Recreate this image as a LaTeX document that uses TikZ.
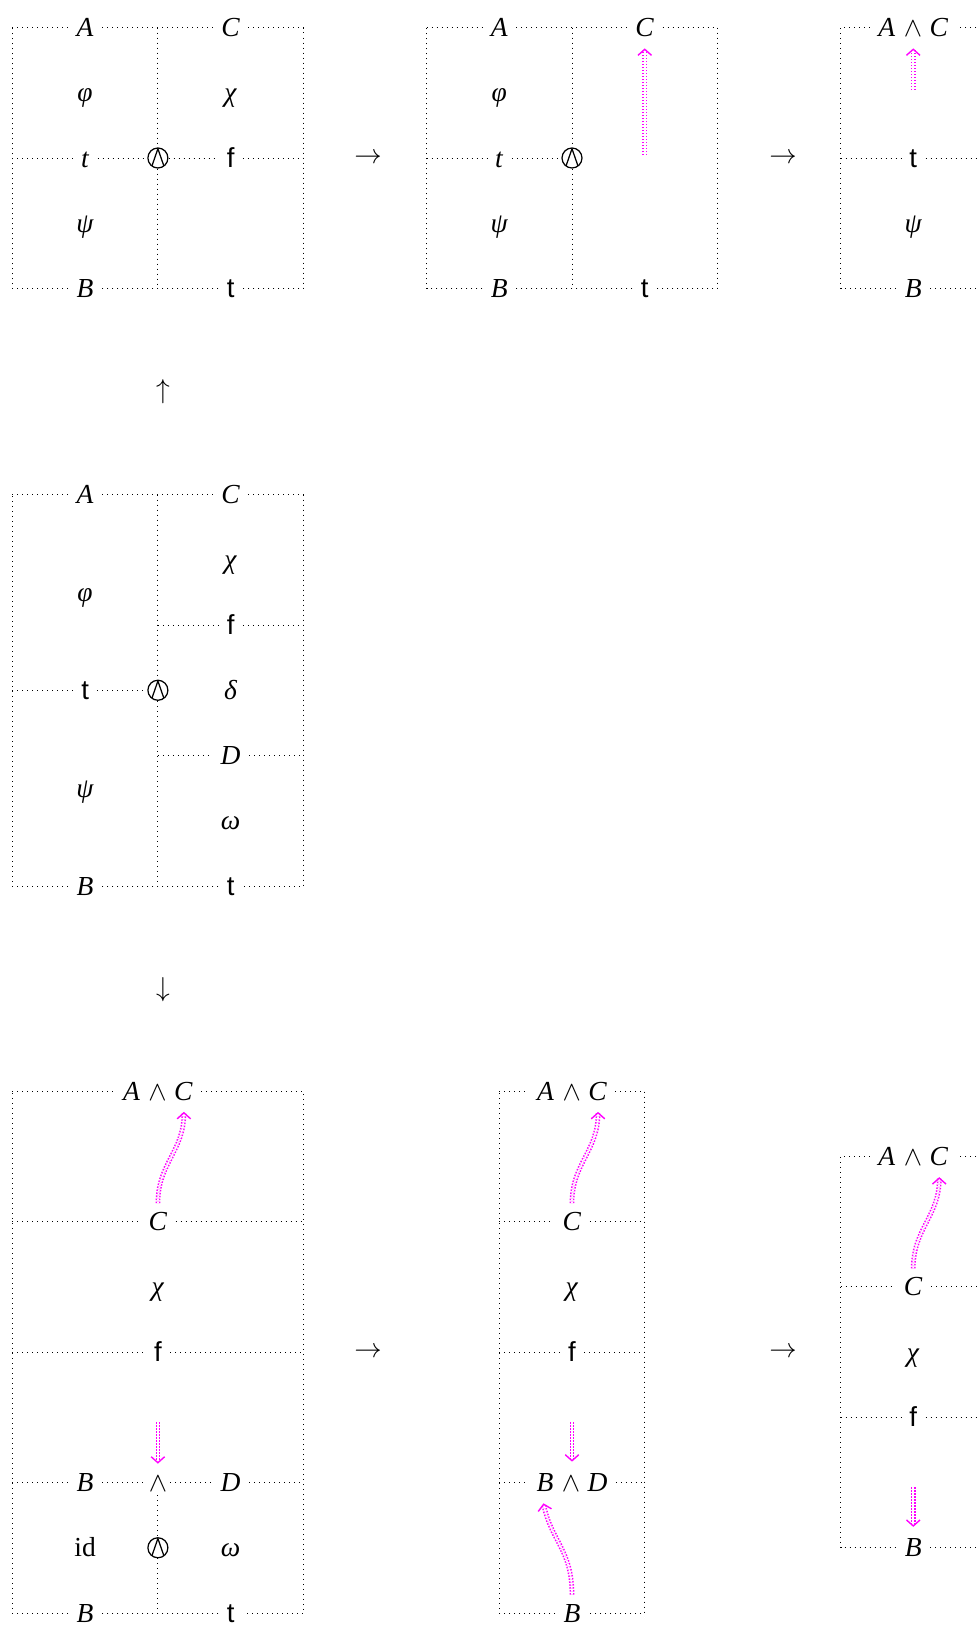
\documentclass[tikz,border=0pt]{standalone}
\usepackage{fontspec}
\setmainfont{Liberation Serif}
\newfontfamily\sansf{Liberation Sans}
\usetikzlibrary{arrows.meta}
\definecolor{flowmag}{RGB}{255,0,255}
\newcommand{\andAC}[2]{\textit{#1}\kern3.4pt$\wedge$\kern3pt\textit{#2}}
\tikzset{
  lab/.style={inner sep=3.2pt, text height=7.6pt, text depth=0.3pt, font=\fontsize{11pt}{13pt}\selectfont},
  sym/.style={font=\fontsize{11pt}{13pt}\selectfont},
  frame/.style={line width=0.4pt, dash pattern=on 0.4pt off 1.6pt},
  wedgelab/.style={lab, inner sep=1pt},
  owedge/.style={circle, draw, line width=0.5pt, minimum size=8pt, inner sep=0pt,
    path picture={\draw[line width=0.5pt]
      ([shift={(-2.6pt,-3.8pt)}]path picture bounding box.center) --
      ([shift={(0pt,3.7pt)}]path picture bounding box.center) --
      ([shift={(2.6pt,-3.8pt)}]path picture bounding box.center);}},
  flow/.style={draw=flowmag, double=white, line width=0.6pt, double distance=0.7pt,
    dash pattern=on 0.6pt off 0.6pt,
    -{Straight Barb[length=2.4pt, width=5.4pt, line width=0.55pt]}, shorten >=1pt}
}
\begin{document}
\begin{tikzpicture}[x=0.4pt, y=-0.4pt]
\useasboundingbox (0,0) rectangle (979,1626);
\fill[white] (0,0) rectangle (979,1626);
\clip (0,0) rectangle (979,1626);

% ---------------- Diagram 1 (top left)
\coordinate (pTL) at (12.4,27.5);  \coordinate (pTR) at (303.4,27.5);
\coordinate (pBL) at (12.4,288.5); \coordinate (pBR) at (303.4,288.5);
\coordinate (pTM) at (157.9,27.5); \coordinate (pBM) at (157.9,288.5);
\coordinate (pML) at (12.4,158);   \coordinate (pMR) at (303.4,158);
\node[lab] (pA) at (85.1,27.5) {\textit{A}};
\node[lab] (pC) at (230.6,27.5) {\textit{C}};
\node[lab] (pphi) at (85.1,92.75) {\textit{φ}};
\node[lab] (pchi) at (230.6,92.75) {\textit{χ}};
\node[lab] (pt) at (85.1,158) {\textit{t}};
\node[owedge] (po) at (157.9,158) {};
\node[lab] (pf) at (230.6,158) {\sansf f};
\node[lab] (ppsi) at (85.1,223.25) {\textit{ψ}};
\node[lab] (pB) at (85.1,288.5) {\textit{B}};
\node[lab] (ptt) at (230.6,288.5) {\sansf t};
\draw[frame] (pTL) -- (pA) -- (pC) -- (pTR) -- (pBR) -- (ptt) -- (pB) -- (pBL) -- (pTL);
\draw[frame] (pTM) -- (po) -- (pBM);
\draw[frame] (pML) -- (pt) -- (po) -- (pf) -- (pMR);

% ---------------- Diagram 2 (top middle)
\coordinate (qTL) at (426.5,27.5);  \coordinate (qTR) at (717.5,27.5);
\coordinate (qBL) at (426.5,288.5); \coordinate (qBR) at (717.5,288.5);
\coordinate (qTM) at (572,27.5);    \coordinate (qBM) at (572,288.5);
\coordinate (qML) at (426.5,158);
\coordinate (qs) at (644.75,155);
\node[lab] (qA) at (499.25,27.5) {\textit{A}};
\node[lab] (qC) at (644.75,27.5) {\textit{C}};
\node[lab] (qphi) at (499.25,92.75) {\textit{φ}};
\node[lab] (qt) at (499.25,158) {\textit{t}};
\node[owedge] (qo) at (572,158) {};
\node[lab] (qpsi) at (499.25,223.25) {\textit{ψ}};
\node[lab] (qB) at (499.25,288.5) {\textit{B}};
\node[lab] (qtt) at (644.75,288.5) {\sansf t};
\draw[frame] (qTL) -- (qA) -- (qC) -- (qTR) -- (qBR) -- (qtt) -- (qB) -- (qBL) -- (qTL);
\draw[frame] (qTM) -- (qo) -- (qBM);
\draw[frame] (qML) -- (qt) -- (qo);
\draw[flow] (qs) -- (qC);

% ---------------- Diagram 3 (top right)
\coordinate (rTL) at (840.5,27.5);  \coordinate (rTR) at (986,27.5);
\coordinate (rBL) at (840.5,288.5); \coordinate (rBR) at (986,288.5);
\coordinate (rML) at (840.5,158);   \coordinate (rMR) at (986,158);
\coordinate (rs) at (913.25,90);
\node[lab] (rAC) at (913.25,27.5) {\andAC{A}{C}};
\node[lab] (rt) at (913.25,158) {\sansf t};
\node[lab] (rpsi) at (913.25,223.25) {\textit{ψ}};
\node[lab] (rB) at (913.25,288.5) {\textit{B}};
\draw[frame] (rTR) -- (rAC) -- (rTL) -- (rBL) -- (rB) -- (rBR) -- (rTR);
\draw[frame] (rML) -- (rt) -- (rMR);
\draw[flow] (rs) -- (rAC);

% ---------------- arrows between diagrams
\node[sym] (ar1) at (368,158) {$\rightarrow$};
\node[sym] (ar2) at (783,158) {$\rightarrow$};
\node[sym] (up) at (163,392) {$\uparrow$};

% ---------------- Diagram 4 (middle left)
\coordinate (sTL) at (12.4,494.5); \coordinate (sTR) at (303.4,494.5);
\coordinate (sBL) at (12.4,886);   \coordinate (sBR) at (303.4,886);
\coordinate (sTM) at (157.9,494.5); \coordinate (sBM) at (157.9,886);
\coordinate (sML) at (12.4,690.25);
\coordinate (sM2) at (157.9,625);   \coordinate (sR2) at (303.4,625);
\coordinate (sM4) at (157.9,755.5); \coordinate (sR4) at (303.4,755.5);
\node[lab] (sA) at (85.1,494.5) {\textit{A}};
\node[lab] (sC) at (230.6,494.5) {\textit{C}};
\node[lab] (schi) at (230.6,559.75) {\textit{χ}};
\node[lab] (sphi) at (85.1,592.4) {\textit{φ}};
\node[lab] (sf) at (230.6,625) {\sansf f};
\node[lab] (st) at (85.1,690.25) {\sansf t};
\node[owedge] (so) at (157.9,690.25) {};
\node[lab] (sdelta) at (230.6,690.25) {\textit{δ}};
\node[lab] (sD) at (230.6,755.5) {\textit{D}};
\node[lab] (spsi) at (85.1,788.1) {\textit{ψ}};
\node[lab] (somega) at (230.6,820.75) {\textit{ω}};
\node[lab] (sB) at (85.1,886) {\textit{B}};
\node[lab] (stt) at (230.6,886) {\sansf t};
\draw[frame] (sTL) -- (sA) -- (sC) -- (sTR) -- (sBR) -- (stt) -- (sB) -- (sBL) -- (sTL);
\draw[frame] (sTM) -- (so) -- (sBM);
\draw[frame] (sML) -- (st) -- (so);
\draw[frame] (sM2) -- (sf) -- (sR2);
\draw[frame] (sM4) -- (sD) -- (sR4);

\node[sym] (dn) at (163,990) {$\downarrow$};

% ---------------- Diagram 5 (bottom left)
\coordinate (uTL) at (12.4,1091); \coordinate (uTR) at (303.4,1091);
\coordinate (uBL) at (12.4,1613); \coordinate (uBR) at (303.4,1613);
\coordinate (uBM) at (157.9,1613);
\coordinate (uL2) at (12.4,1221.5); \coordinate (uR2) at (303.4,1221.5);
\coordinate (uL4) at (12.4,1352);   \coordinate (uR4) at (303.4,1352);
\coordinate (uL6) at (12.4,1482.5); \coordinate (uR6) at (303.4,1482.5);
\coordinate (us) at (157.9,1422);
\node[lab] (uAC) at (157.9,1091) {\andAC{A}{C}};
\node[lab] (uC) at (157.9,1221.5) {\textit{C}};
\node[lab] (uchi) at (157.9,1286.75) {\textit{χ}};
\node[lab] (uf) at (157.9,1352) {\sansf f};
\node[lab] (uB) at (85.1,1482.5) {\textit{B}};
\node[wedgelab] (uw) at (157.9,1482.5) {$\wedge$};
\node[lab] (uD) at (230.6,1482.5) {\textit{D}};
\node[lab] (uid) at (85.1,1547.75) {id};
\node[owedge] (uo) at (157.9,1547.75) {};
\node[lab] (uomega) at (230.6,1547.75) {\textit{ω}};
\node[lab] (uB2) at (85.1,1613) {\textit{B}};
\node[lab] (utt) at (230.6,1613) {\sansf t};
\draw[frame] (uTL) -- (uAC) -- (uTR) -- (uBR) -- (utt) -- (uB2) -- (uBL) -- (uTL);
\draw[frame] (uL2) -- (uC) -- (uR2);
\draw[frame] (uL4) -- (uf) -- (uR4);
\draw[frame] (uL6) -- (uB) -- (uw) -- (uD) -- (uR6);
\draw[frame] (uw) -- (uo) -- (uBM);
\draw[flow] (uC.north) .. controls +(0,-40) and +(0,42) .. ([xshift=10.4pt]uAC.south);
\draw[flow, shorten >=2.4pt] (us) -- (uw.north);

\node[sym] (ar3) at (368,1352) {$\rightarrow$};

% ---------------- Diagram 6 (bottom middle)
\coordinate (vTL) at (499.25,1091); \coordinate (vTR) at (644.75,1091);
\coordinate (vBL) at (499.25,1613); \coordinate (vBR) at (644.75,1613);
\coordinate (vL2) at (499.25,1221.5); \coordinate (vR2) at (644.75,1221.5);
\coordinate (vL4) at (499.25,1352);   \coordinate (vR4) at (644.75,1352);
\coordinate (vL6) at (499.25,1482.5); \coordinate (vR6) at (644.75,1482.5);
\coordinate (vs) at (572,1422);
\node[lab] (vAC) at (572,1091) {\andAC{A}{C}};
\node[lab] (vC) at (572,1221.5) {\textit{C}};
\node[lab] (vchi) at (572,1286.75) {\textit{χ}};
\node[lab] (vf) at (572,1352) {\sansf f};
\node[lab] (vBD) at (572,1482.5) {\andAC{B}{D}};
\node[lab] (vB) at (572,1613) {\textit{B}};
\draw[frame] (vTL) -- (vAC) -- (vTR) -- (vBR) -- (vB) -- (vBL) -- (vTL);
\draw[frame] (vL2) -- (vC) -- (vR2);
\draw[frame] (vL4) -- (vf) -- (vR4);
\draw[frame] (vL6) -- (vBD) -- (vR6);
\draw[flow] (vC.north) .. controls +(0,-40) and +(0,42) .. ([xshift=10.4pt]vAC.south);
\draw[flow] (vs) -- (vBD.north);
\draw[flow] (vB.north) .. controls +(0,-45) and +(8,40) .. ([xshift=-11.6pt]vBD.south);

\node[sym] (ar4) at (783,1352) {$\rightarrow$};

% ---------------- Diagram 7 (bottom right)
\coordinate (wTL) at (840.5,1156.25); \coordinate (wTR) at (986,1156.25);
\coordinate (wBL) at (840.5,1547.75); \coordinate (wBR) at (986,1547.75);
\coordinate (wL3) at (840.5,1286.75); \coordinate (wR3) at (986,1286.75);
\coordinate (wL5) at (840.5,1417.25); \coordinate (wR5) at (986,1417.25);
\coordinate (ws) at (913.25,1487.3);
\node[lab] (wAC) at (913.25,1156.25) {\andAC{A}{C}};
\node[lab] (wC) at (913.25,1286.75) {\textit{C}};
\node[lab] (wchi) at (913.25,1352) {\textit{χ}};
\node[lab] (wf) at (913.25,1417.25) {\sansf f};
\node[lab] (wB) at (913.25,1547.75) {\textit{B}};
\draw[frame] (wTR) -- (wAC) -- (wTL) -- (wBL) -- (wB) -- (wBR);
\draw[frame] (wL3) -- (wC) -- (wR3);
\draw[frame] (wL5) -- (wf) -- (wR5);
\draw[flow] (wC.north) .. controls +(0,-40) and +(0,42) .. ([xshift=10.4pt]wAC.south);
\draw[flow] (ws) -- (wB.north);
\end{tikzpicture}
\end{document}
